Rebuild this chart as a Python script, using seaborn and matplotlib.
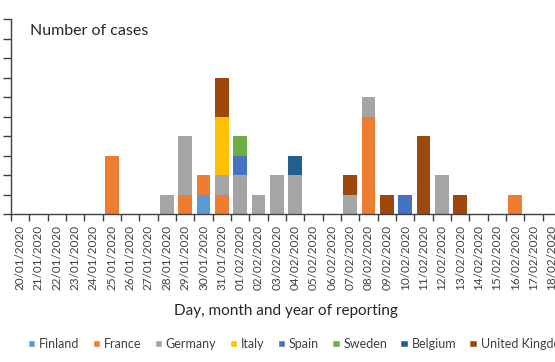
import numpy as np
import pandas as pd
import matplotlib
matplotlib.use('Agg')
import matplotlib.pyplot as plt
import seaborn as sns
from matplotlib.patches import Patch
from matplotlib.ticker import FixedLocator

# reporting dates 20/01/2020 .. 18/02/2020
dates = [f'{d:02d}/01/2020' for d in range(20, 32)] + [f'{d:02d}/02/2020' for d in range(1, 19)]

countries = ['Finland', 'France', 'Germany', 'Italy', 'Spain', 'Sweden', 'Belgium', 'United Kingdom']
colors = ['#5B9BD5', '#ED7D31', '#A5A5A5', '#FFC000', '#4472C4', '#70AD47', '#255E91', '#9E480E']

# cases per day (one value per date above)
finland = [0, 0, 0, 0, 0, 0, 0, 0, 0, 0, 1, 0, 0, 0, 0, 0, 0, 0, 0, 0, 0, 0, 0, 0, 0, 0, 0, 0, 0, 0]
france  = [0, 0, 0, 0, 0, 3, 0, 0, 0, 1, 1, 1, 0, 0, 0, 0, 0, 0, 0, 5, 0, 0, 0, 0, 0, 0, 0, 1, 0, 0]
germany = [0, 0, 0, 0, 0, 0, 0, 0, 1, 3, 0, 1, 2, 1, 2, 2, 0, 0, 1, 1, 0, 0, 0, 2, 0, 0, 0, 0, 0, 0]
italy   = [0, 0, 0, 0, 0, 0, 0, 0, 0, 0, 0, 3, 0, 0, 0, 0, 0, 0, 0, 0, 0, 0, 0, 0, 0, 0, 0, 0, 0, 0]
spain   = [0, 0, 0, 0, 0, 0, 0, 0, 0, 0, 0, 0, 1, 0, 0, 0, 0, 0, 0, 0, 0, 1, 0, 0, 0, 0, 0, 0, 0, 0]
sweden  = [0, 0, 0, 0, 0, 0, 0, 0, 0, 0, 0, 0, 1, 0, 0, 0, 0, 0, 0, 0, 0, 0, 0, 0, 0, 0, 0, 0, 0, 0]
belgium = [0, 0, 0, 0, 0, 0, 0, 0, 0, 0, 0, 0, 0, 0, 0, 1, 0, 0, 0, 0, 0, 0, 0, 0, 0, 0, 0, 0, 0, 0]
uk      = [0, 0, 0, 0, 0, 0, 0, 0, 0, 0, 0, 2, 0, 0, 0, 0, 0, 0, 1, 0, 1, 0, 4, 0, 1, 0, 0, 0, 0, 0]

series = [finland, france, germany, italy, spain, sweden, belgium, uk]

sns.set_theme(style='white')
plt.rcParams['font.family'] = ['Lato', 'DejaVu Sans']

fig = plt.figure(figsize=(5.55, 3.62), dpi=100)
ax = fig.add_axes([11 / 555, 148 / 362, 550 / 555, 195 / 362])

bottom = np.zeros(len(dates))
for name, vals, col in zip(countries, series, colors):
    df = pd.DataFrame({'date': dates, 'cases': vals})
    sns.barplot(data=df, x='date', y='cases', order=dates, color=col,
                bottom=bottom, width=0.73, errorbar=None, saturation=1,
                linewidth=0, edgecolor='none', ax=ax)
    bottom = bottom + np.array(vals)

ax.set_xlim(-0.5, len(dates) - 0.5)
ax.set_ylim(0, 10)
ax.set_yticks(range(0, 11))
ax.set_yticklabels([])
ax.set_ylabel('')
ax.set_xlabel('Day, month and year of reporting', fontsize=11, labelpad=10, color='#262626')

ax.tick_params(axis='x', which='major', length=0, labelrotation=90, labelsize=8.5,
               labelcolor='#404040', pad=8)
ax.xaxis.set_minor_locator(FixedLocator(np.arange(-0.5, len(dates), 1)))
ax.tick_params(axis='x', which='minor', length=5, width=1, color='#404040', direction='out', bottom=True)
ax.tick_params(axis='y', length=6, width=1, color='#404040', direction='out', left=True)

for s in ['top', 'right']:
    ax.spines[s].set_visible(False)
for s in ['left', 'bottom']:
    ax.spines[s].set_color('#404040')
    ax.spines[s].set_linewidth(1)

ax.text(0.035, 0.94, 'Number of cases', transform=ax.transAxes, fontsize=11.5,
        color='#262626', va='center', ha='left')

handles = [Patch(facecolor=c, label=n) for n, c in zip(countries, colors)]
fig.legend(handles=handles, loc='center left', bbox_to_anchor=(0.03, 0.05), ncol=8,
           frameon=False, fontsize=9, handlelength=0.6, handleheight=0.6,
           handletextpad=0.3, columnspacing=1.05, labelcolor='#404040')

fig.savefig('out.png', dpi=100)
